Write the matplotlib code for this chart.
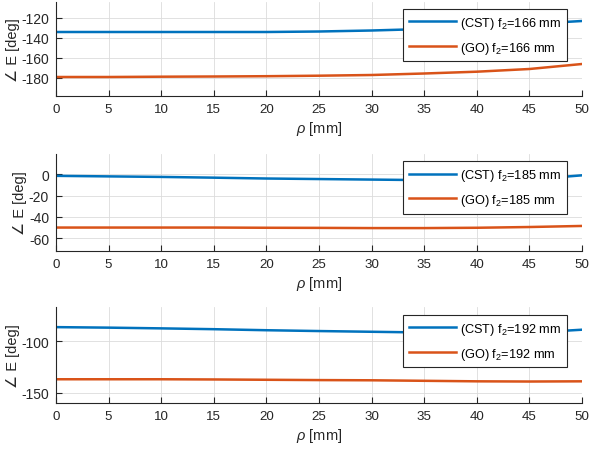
import matplotlib
matplotlib.use("Agg")
import matplotlib.pyplot as plt
import numpy as np

plt.rcParams['font.family'] = ['Liberation Sans', 'DejaVu Sans']
plt.rcParams['mathtext.fontset'] = 'custom'
plt.rcParams['mathtext.rm'] = 'Liberation Sans'
plt.rcParams['mathtext.it'] = 'Liberation Sans:italic'
plt.rcParams['axes.unicode_minus'] = False

rho = [0, 5, 10, 15, 20, 25, 30, 35, 40, 45, 50]

cst_166 = [-134, -134, -134, -134, -134, -133.5, -132.5, -131, -129, -126, -123]
go_166 = [-179, -179, -178.7, -178.5, -178.2, -177.7, -177, -175.5, -173.7, -171, -166]
cst_185 = [-1.5, -2, -2.5, -3.2, -4, -4.5, -5, -5.5, -5.8, -5, -1]
go_185 = [-50, -50, -50, -50, -50.2, -50.3, -50.5, -50.5, -50.2, -49.5, -48.5]
cst_192 = [-86.5, -87, -87.7, -88.5, -89.5, -90.3, -91, -91.7, -92.2, -92, -89]
go_192 = [-137, -137, -137, -137.2, -137.5, -137.8, -138, -138.5, -139, -139.2, -139]

focal = ['166', '185', '192']
ylims = [(-198, -104), (-72, 19), (-160, -67)]
yticks = [[-180, -160, -140, -120], [-60, -40, -20, 0], [-150, -100]]

blue = '#0072BD'
orange = '#D95319'

W, H = 589, 452
fig = plt.figure(figsize=(W / 100, H / 100), dpi=100)

boxes = [(3, 97), (155, 252), (308, 404)]
leg_tops = [0.926, 0.925, 0.917]
series = [(cst_166, go_166), (cst_185, go_185), (cst_192, go_192)]

for i, ((top, bot), (cst, go)) in enumerate(zip(boxes, series)):
    ax = fig.add_axes([56 / W, 1 - bot / H, (582 - 56) / W, (bot - top) / H])
    ax.plot(rho, cst, color=blue, lw=1.8, label=f'(CST) f$_2$={focal[i]} mm')
    ax.plot(rho, go, color=orange, lw=1.8, label=f'(GO) f$_2$={focal[i]} mm')
    ax.set_xlim(0, 50)
    ax.set_ylim(*ylims[i])
    ax.set_xticks(range(0, 51, 5))
    ax.set_yticks(yticks[i])
    ax.grid(True, color='#dcdcdc', lw=0.6)
    ax.set_axisbelow(True)
    for s in ['top', 'right']:
        ax.spines[s].set_visible(False)
    for s in ['left', 'bottom']:
        ax.spines[s].set_color('#262626')
        ax.spines[s].set_linewidth(0.8)
    ax.tick_params(direction='in', length=4, width=0.8, colors='#262626',
                   labelsize=10, labelcolor='#262626', pad=5)
    ax.tick_params(axis='x', labelsize=9.6)
    ax.set_xlabel(r'$\rho$ [mm]', fontsize=10.5, color='#262626', labelpad=3)
    ax.set_ylabel('∠ E [deg]', fontsize=10.5, color='#262626', labelpad=1)
    leg = ax.legend(loc='upper right', bbox_to_anchor=(0.971, leg_tops[i]),
                    borderaxespad=0, fontsize=9.2, handlelength=3.7,
                    handletextpad=0.3, borderpad=0.45, labelspacing=0.7,
                    fancybox=False, framealpha=1, edgecolor='#262626')
    leg.get_frame().set_linewidth(0.8)

fig.savefig('out.png', dpi=100)
